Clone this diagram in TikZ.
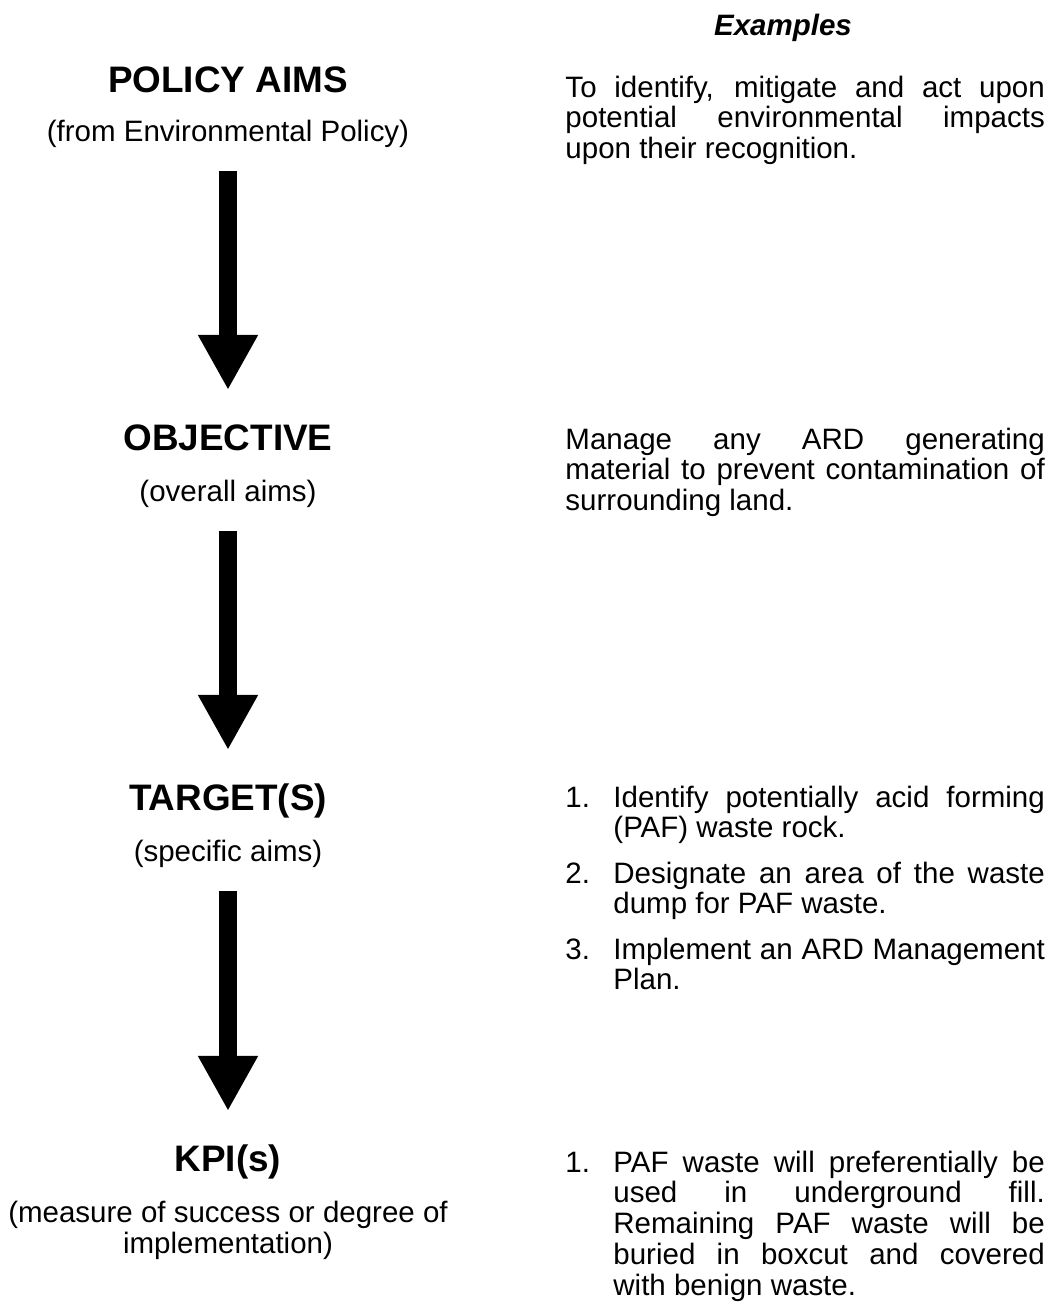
\documentclass[tikz,border=0pt]{standalone}
\usepackage{fontspec}
\setmainfont{Liberation Sans}
\usetikzlibrary{arrows.meta,calc}
\definecolor{ink}{RGB}{0,0,0}
\hbadness=10000
\newcommand{\itemno}[1]{\hangindent=19.5pt\hangafter=1\noindent\makebox[19.5pt][l]{#1}}
\tikzset{
  head/.style={inner sep=0pt,anchor=base,text=ink,font=\fontsize{15pt}{18pt}\selectfont\bfseries},
  sub/.style={inner sep=0pt,anchor=base,align=center,text=ink,font=\fontsize{12pt}{12.6pt}\selectfont},
  note/.style={inner sep=0pt,anchor=base west,text width=#1,align=justify,text=ink,
    font=\fontsize{12pt}{12.6pt}\selectfont},
  note/.default=195pt,
  down/.style={draw=ink,line width=7.7pt,-{Triangle[width=22.8pt,length=22.4pt]}},
}
\begin{document}
\begin{tikzpicture}[x=0.4068pt,y=-0.4068pt]
  \useasboundingbox (0,0) rectangle (1053,1306);
  \node[inner sep=0pt,anchor=base,font=\fontsize{12pt}{12.6pt}\selectfont\bfseries\itshape] (examples) at (783,35) {Examples};
  % left column
  \node[head] (policy) at (228,92) {POLICY AIMS};
  \node[sub] (policysub) at (228,141) {(from Environmental Policy)};
  \node[head] (objective) at (228,450) {OBJECTIVE};
  \node[sub] (objectivesub) at (228,501) {(overall aims)};
  \node[head] (target) at (228,810) {TARGET(S)};
  \node[sub] (targetsub) at (228,861) {(specific aims)};
  \node[head] (kpi) at (228,1171) {KPI(s)};
  \node[sub] (kpisub) at (228,1253) {(measure of success or degree of\\implementation)};
  \draw[down] ($(policysub.base)+(0,30)$) -- ($(objective.base)+(0,-60)$);
  \draw[down] ($(objectivesub.base)+(0,30)$) -- ($(target.base)+(0,-60)$);
  \draw[down] ($(targetsub.base)+(0,30)$) -- ($(kpi.base)+(0,-60)$);
  % examples
  \node[note] (policynote) at (565,97) {To identify, mitigate and act upon\linebreak potential environmental impacts\linebreak upon their recognition.};
  \node[note] (objectivenote) at (565,449) {Manage any ARD generating\linebreak material to prevent contamination of\linebreak surrounding land.};
  \node[note] (target1) at (565,807) {\itemno{1.}Identify potentially acid forming\linebreak (PAF) waste rock.\par};
  \node[note] (target2) at (565,883) {\itemno{2.}Designate an area of the waste\linebreak dump for PAF waste.\par};
  \node[note] (target3) at (565,959) {\itemno{3.}Implement an ARD Management\linebreak Plan.\par};
  \node[note] (kpi1) at (565,1172) {\itemno{1.}PAF waste will preferentially be\linebreak used in underground fill.\linebreak Remaining PAF waste will be\linebreak buried in boxcut and covered\linebreak with benign waste.\par};
\end{tikzpicture}
\end{document}
